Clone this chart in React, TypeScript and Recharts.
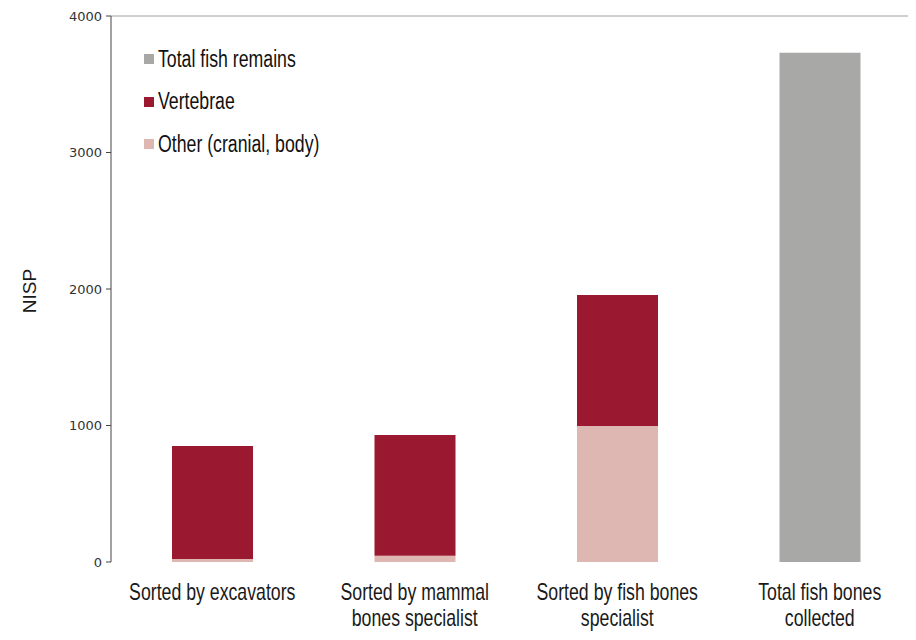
import { BarChart, Bar, XAxis, YAxis, ReferenceLine } from 'recharts';

// values (NISP)
const categories = [
  'Sorted by excavators',
  'Sorted by mammal\nbones specialist',
  'Sorted by fish bones\nspecialist',
  'Total fish bones\ncollected',
];
const otherValues = [22, 45, 996, null];
const vertebraeValues = [828, 885, 960, null];
const totalValues = [null, null, null, 3730];
const yTicks = [0, 1000, 2000, 3000, 4000];
const edgeTicks = [0, 1, 2, 3, 4];

const legendItems = [
  { name: 'Total fish remains', color: '#a8a8a7' },
  { name: 'Vertebrae', color: '#9b1930' },
  { name: 'Other (cranial, body)', color: '#deb7b2' },
];

const data = categories.map((c, i) => ({
  category: c,
  other: otherValues[i],
  vertebrae: vertebraeValues[i],
  total: totalValues[i],
}));

// no condensed font installed, so squeeze Liberation Sans horizontally
const SANS = '"Liberation Sans", Arial, sans-serif';
const SQUEEZE = 0.77;

const CategoryTick = (props: any) => {
  const { x, y, payload } = props;
  const lines = String(payload.value).split('\n');
  return (
    <g transform={`translate(${x},${y}) scale(${SQUEEZE},1)`}>
      <text x={0} y={0} textAnchor="middle" fill="#1a1a1a" fontFamily={SANS} fontSize={23}>
        {lines.map((l, i) => (
          <tspan key={i} x={0} dy={i === 0 ? 30 : 26}>
            {l}
          </tspan>
        ))}
      </text>
    </g>
  );
};

const NispLabel = (props: any) => {
  const vb = props.viewBox || {};
  const cx = 21;
  const cy = (vb.y ?? 8) + (vb.height ?? 546) / 2 + 2;
  return (
    <text
      x={cx}
      y={cy}
      transform={`rotate(-90, ${cx}, ${cy})`}
      textAnchor="middle"
      dominantBaseline="central"
      fill="#1a1a1a"
      fontFamily={SANS}
      fontSize={19}
    >
      NISP
    </text>
  );
};

const App = () => {
  return (
    <div style={{ position: 'relative', width: 908, height: 624, overflowX: 'clip' }}>
      <BarChart
        width={920}
        height={624}
        data={data}
        margin={{ top: 8, right: 7, left: 0, bottom: 0 }}
        barSize={81}
        style={{ overflow: 'visible' }}
      >
        <XAxis
          xAxisId="edge"
          type="number"
          domain={[0, 4]}
          ticks={edgeTicks}
          tick={false}
          tickSize={4}
          height={0}
          stroke="#555"
        />
        <XAxis
          dataKey="category"
          axisLine={false}
          tickLine={false}
          height={70}
          interval={0}
          tick={<CategoryTick />}
        />
        <YAxis
          width={103}
          domain={[0, 4000]}
          ticks={yTicks}
          tickSize={5}
          tickMargin={4}
          stroke="#444"
          tick={{ fill: '#333', fontSize: 13, fontFamily: '"DejaVu Sans", sans-serif' }}
          label={<NispLabel />}
        />
        <ReferenceLine y={4000} stroke="#a0a0a0" />
        <Bar dataKey="other" stackId="a" fill="#deb7b2" isAnimationActive={false} />
        <Bar dataKey="vertebrae" stackId="a" fill="#9b1930" isAnimationActive={false} />
        <Bar dataKey="total" stackId="a" fill="#a8a8a7" isAnimationActive={false} />
      </BarChart>
      <div style={{ position: 'absolute', left: 136, top: 30, fontFamily: SANS, fontSize: 23, color: '#111' }}>
        {legendItems.map((it) => (
          <div key={it.name} style={{ display: 'flex', alignItems: 'center', height: 42.5, whiteSpace: 'nowrap' }}>
            <span style={{ width: 10, height: 10, background: it.color, marginRight: 4, flexShrink: 0 }} />
            <span style={{ display: 'inline-block', transform: `scaleX(${SQUEEZE})`, transformOrigin: 'left center' }}>
              {it.name}
            </span>
          </div>
        ))}
      </div>
    </div>
  );
};

export default App;
